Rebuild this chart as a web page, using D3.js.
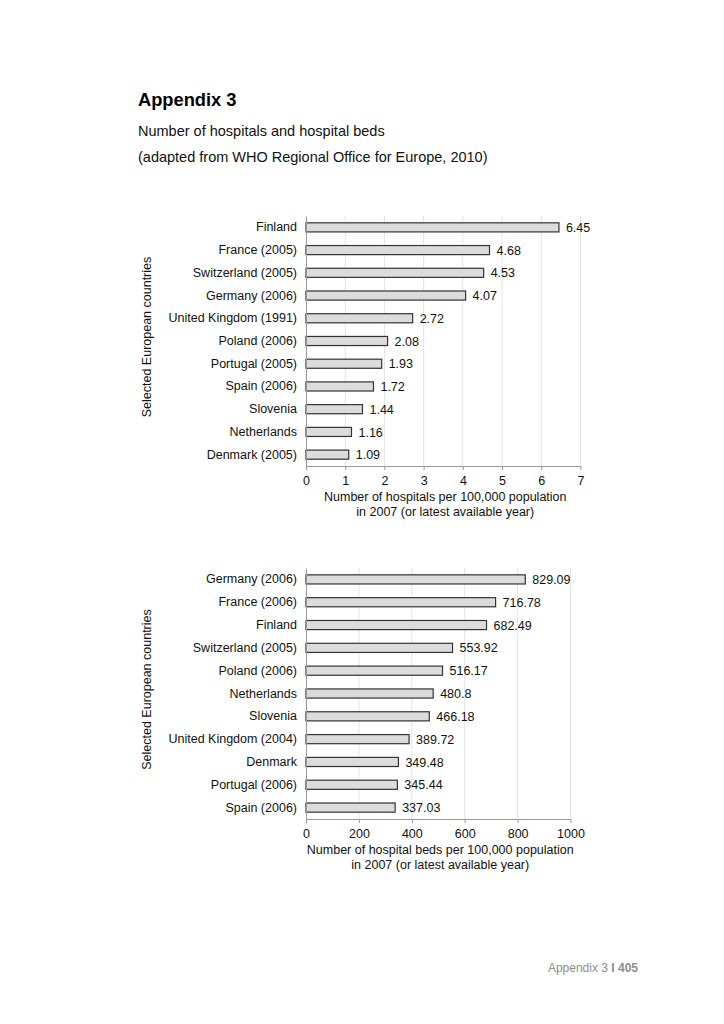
<!DOCTYPE html>
<html><head><meta charset="utf-8">
<script src="https://cdn.jsdelivr.net/npm/d3@7"></script>
<style>body{margin:0;background:#fff}svg{display:block;font-family:"Liberation Sans",Arial,sans-serif}</style>
</head><body>
<script>
const hospCountries = ["Finland","France (2005)","Switzerland (2005)","Germany (2006)","United Kingdom (1991)","Poland (2006)","Portugal (2005)","Spain (2006)","Slovenia","Netherlands","Denmark (2005)"];
const hospValues = [6.45,4.68,4.53,4.07,2.72,2.08,1.93,1.72,1.44,1.16,1.09];
const hospTicks = [0,1,2,3,4,5,6,7];

const bedCountries = ["Germany (2006)","France (2006)","Finland","Switzerland (2005)","Poland (2006)","Netherlands","Slovenia","United Kingdom (2004)","Denmark","Portugal (2006)","Spain (2006)"];
const bedValues = [829.09,716.78,682.49,553.92,516.17,480.8,466.18,389.72,349.48,345.44,337.03];
const bedTicks = [0,200,400,600,800,1000];

const W=724,H=1024;
const svg=d3.select("body").append("svg").attr("width",W).attr("height",H);

svg.append("text").attr("x",138).attr("y",106).attr("font-size",18.3).attr("font-weight","bold").attr("fill","#000").text("Appendix 3");
svg.append("text").attr("x",138).attr("y",136).attr("font-size",14.5).attr("fill","#111").text("Number of hospitals and hospital beds");
svg.append("text").attr("x",138).attr("y",162).attr("font-size",14.5).attr("fill","#111").text("(adapted from WHO Regional Office for Europe, 2010)");

const foot=svg.append("text").attr("x",638).attr("y",972).attr("text-anchor","end").attr("font-size",12).attr("fill","#8c8c8c");
foot.append("tspan").text("Appendix 3 ");
foot.append("tspan").attr("font-weight","bold").text("I 405");

function chart(cfg){
  const x=d3.scaleLinear().domain([0,cfg.max]).range([306,cfg.xEnd]);
  const y=d3.scaleBand().domain(cfg.cats).range([cfg.top,cfg.bottom]).paddingInner(0.6).paddingOuter(0.3);
  const g=svg.append("g");
  g.selectAll("line.grid").data(cfg.ticks.slice(1)).join("line")
    .attr("x1",d=>x(d)).attr("x2",d=>x(d)).attr("y1",cfg.top).attr("y2",cfg.bottom)
    .attr("stroke","#e4e4e4").attr("stroke-width",1);
  g.selectAll("rect").data(cfg.vals).join("rect")
    .attr("x",x(0)).attr("y",(d,i)=>y(cfg.cats[i]))
    .attr("width",d=>x(d)-x(0)).attr("height",y.bandwidth())
    .attr("fill","#dcdcdc").attr("stroke","#333").attr("stroke-width",1.2);
  g.selectAll("text.val").data(cfg.vals).join("text")
    .attr("x",d=>x(d)+7).attr("y",(d,i)=>y(cfg.cats[i])+y.bandwidth()/2+4.6)
    .attr("font-size",12.5).attr("fill","#111").text(d=>String(d));
  const xa=g.append("g").attr("transform",`translate(0,${cfg.bottom})`)
    .call(d3.axisBottom(x).tickValues(cfg.ticks).tickSize(4).tickSizeOuter(0).tickFormat(d3.format("d")));
  xa.select(".domain").attr("stroke","#999");
  xa.selectAll(".tick line").attr("stroke","#999");
  xa.selectAll("text").attr("font-size",12.5).attr("fill","#111").attr("dy","0.95em").attr("font-family","Liberation Sans, Arial, sans-serif");
  const ya=g.append("g").attr("transform",`translate(${x(0)},0)`)
    .call(d3.axisLeft(y).tickSize(0).tickPadding(9));
  ya.select(".domain").attr("stroke","#999");
  ya.selectAll("text").attr("font-size",12.5).attr("fill","#111").attr("font-family","Liberation Sans, Arial, sans-serif");
  const cx=(306+cfg.xEnd)/2+2;
  cfg.xTitle.forEach((t,i)=>g.append("text").attr("x",cx).attr("y",cfg.bottom+35+i*14.5)
    .attr("text-anchor","middle").attr("font-size",12.5).attr("fill","#111").text(t));
  g.append("text").attr("transform",`translate(151,${(cfg.top+cfg.bottom)/2-4})rotate(-90)`)
    .attr("text-anchor","middle").attr("font-size",12.5).attr("fill","#111").text("Selected European countries");
}

chart({cats:hospCountries,vals:hospValues,ticks:hospTicks,max:7,xEnd:580.5,top:216,bottom:466,
  xTitle:["Number of hospitals per 100,000 population","in 2007 (or latest available year)"]});
chart({cats:bedCountries,vals:bedValues,ticks:bedTicks,max:1000,xEnd:570.5,top:568,bottom:819,
  xTitle:["Number of hospital beds per 100,000 population","in 2007 (or latest available year)"]});
</script>
</body></html>
